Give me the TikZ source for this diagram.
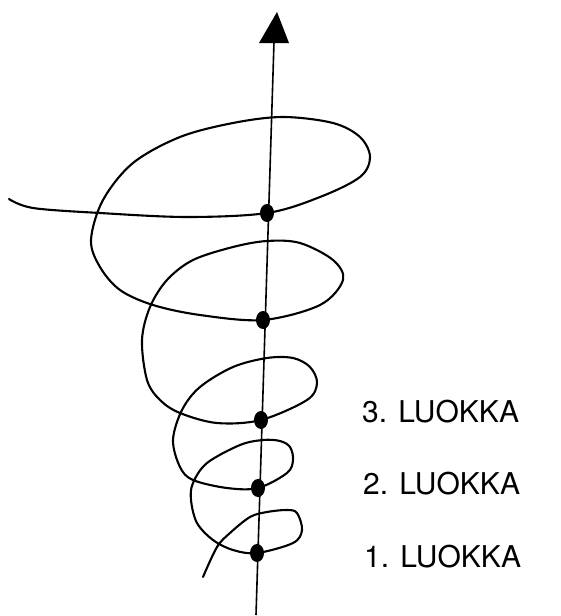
\documentclass[tikz,border=0pt]{standalone}
\usepackage{fontspec}
\setmainfont{TeX Gyre Heros}
\begin{document}
\begin{tikzpicture}[x=1pt,y=-1pt,
  curve/.style={line width=2.1pt, line join=round, line cap=round},
  axisline/.style={line width=1.6pt},
  lbl/.style={anchor=west, inner sep=0pt, font=\fontsize{30}{35}\selectfont}]
\useasboundingbox (0,0) rectangle (560,616);
% points on axis
\coordinate (top) at (274,42);
\coordinate (bot) at (256,615);
\coordinate (d1) at (267,213);
\coordinate (d2) at (263,320);
\coordinate (d3) at (261,420);
\coordinate (d4) at (258,488);
\coordinate (d5) at (257,553);
% axis
\draw[axisline] (bot) -- (top);
\fill (277,12) -- (259,43) -- (289,43) -- cycle;
% spiral
\draw[curve] plot[smooth, tension=0.55] coordinates {
 (9,199) (33,208) (100,213) (187,217) (d1) (320,197) (360,177) (370,157) (360,137) (333,123)
 (283,117) (233,123) (180,137) (133,163) (103,200) (91,240) (100,267) (120,290)
 (153,305) (200,315) (d2) (320,305) (343,280) (333,260) (300,243)
 (267,241) (233,247) (193,260) (167,280) (150,307) (142,340) (147,380) (160,400)
 (180,413) (217,423) (d3) (307,400) (317,383) (310,367) (293,358)
 (267,358) (233,367) (200,387) (182,410) (173,440) (180,467) (193,480) (227,488)
 (d4) (287,473) (293,460) (290,447) (280,441) (263,440) (240,445)
 (207,463) (193,483) (191,500) (197,523) (213,540) (233,550) (d5) (293,543)
 (302,530) (297,513) (287,510) (267,512) (250,517) (230,533) (217,547) (203,577)};
% dots
\foreach \d in {d1,d2,d3,d4,d5}
  \fill (\d) ellipse [x radius=7pt, y radius=9pt];
% labels
\node[lbl] (l3) at (362,412) {3. LUOKKA};
\node[lbl] (l2) at (363,484) {2. LUOKKA};
\node[lbl] (l1) at (364,557) {1. LUOKKA};
\end{tikzpicture}
\end{document}
